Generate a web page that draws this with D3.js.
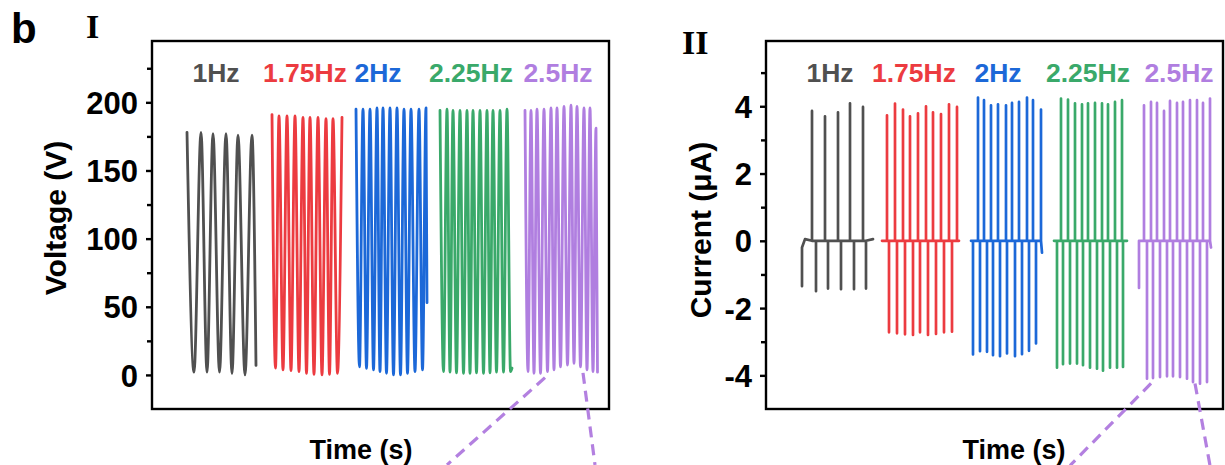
<!DOCTYPE html>
<html>
<head>
<meta charset="utf-8">
<script src="https://cdn.jsdelivr.net/npm/d3@7"></script>
<style>
  body { margin: 0; background: #fff; }
  svg { display: block; font-family: "Liberation Sans", Arial, sans-serif; }
</style>
</head>
<body>
<svg id="chart" width="1225" height="465"></svg>
<script>
// ---- data (time in s, voltage in V, current in uA) ----
const freqLabels = ['1Hz', '1.75Hz', '2Hz', '2.25Hz', '2.5Hz'];
const colors = ['#505050', '#ec3b40', '#1c68d8', '#3aa96a', '#b07ee0'];

// panel I: voltage peaks/valleys [t, V]
const voltage1Hz = [[3.5,178],[4.2,2],[4.9,178],[5.5,2],[6.1,177],[6.75,2],[7.4,177],[8.0,1],[8.6,176],[9.3,0],[10.0,176],[10.4,7]];
const voltage175Hz = [[12.0,191],[12.35,5],[12.7,190],[13.1,3.7],[13.5,190],[13.9,3.2],[14.3,190],[14.7,2.4],[15.1,189],[15.45,1.2],
  [15.8,189],[16.2,0.5],[16.6,189],[17.0,0],[17.4,188],[17.75,0.5],[18.1,188],[18.55,1.2],[19.0,189]];
const voltage2Hz = [[20.4,195],[20.75,6],[21.1,195],[21.45,4.9],[21.8,195],[22.15,3.7],[22.5,196],[22.8,2.4],[23.1,196],[23.45,1.2],
  [23.8,196],[24.15,0],[24.5,196],[24.85,0],[25.2,195],[25.55,1.2],[25.9,195],[26.3,2.4],[26.7,195],[27.05,3.7],[27.4,196],[27.5,53]];
const voltage225Hz = [[28.8,194],[29.15,2.4],[29.5,195],[29.8,2],[30.1,194],[30.45,1.5],[30.8,194],[31.15,1.2],[31.5,194],[31.8,1.2],
  [32.1,194],[32.45,1.5],[32.8,194],[33.15,1.2],[33.5,194],[33.8,1.5],[34.1,194],[34.45,2],[34.8,194],[35.15,2],[35.5,195],[35.85,2.4],[36.0,5]];
const voltage25Hz = [[37.3,194],[37.6,2.4],[37.9,194],[38.2,1.2],[38.5,195],[38.85,1.2],[39.2,195],[39.55,2.4],[39.9,196],[40.2,3.7],
  [40.5,196],[40.85,6],[41.2,197],[41.55,7.3],[41.9,198],[42.2,8.5],[42.5,197],[42.85,6],[43.2,196],[43.5,3.7],[43.8,196],[44.1,2.4],
  [44.4,181],[44.55,2]];

// panel II: current spikes, times and peak values
const curStart = [[[3.6,-1.35],[3.6,-0.2],[3.9,0.05]], [[11.6,0]], [[20.5,0]], [[28.8,0]], [[37.3,-1.4],[37.3,0]]];
const curEnd = [[10.7,0.05],[19.3,0],[[27.6,-0.35]],[36.1,0],[[44.5,-0.2]]];
const upTimes = [
  [4.6,5.9,7.2,8.4,9.7],
  [12.1,12.9,13.7,14.4,15.2,16.0,16.7,17.5,18.3,19.1],
  [21.2,21.8,22.5,23.2,24.0,24.6,25.3,26.1,26.7,27.5],
  [29.5,30.2,30.9,31.6,32.2,32.9,33.6,34.2,34.9,35.6],
  [37.8,38.5,39.1,39.8,40.4,41.1,41.7,42.4,43.1,43.7,44.4]
];
const upValues = [
  [3.86,3.7,3.82,4.09,3.98],
  [3.73,4.08,3.9,3.7,3.79,4.0,3.82,3.77,4.06,3.98],
  [4.26,4.18,4.03,4.06,4.03,4.1,4.13,4.26,4.18,3.9],
  [4.23,4.2,4.09,4.06,4.09,4.1,4.09,4.06,4.13,4.18],
  [4.03,4.13,4.1,3.86,4.16,4.1,4.13,4.18,4.18,4.1,4.23]
];
const downTimes = [
  [5.0,6.2,7.5,8.8,10.0],
  [12.3,13.1,13.9,14.7,15.4,16.2,17.0,17.8,18.6],
  [20.7,21.4,22.1,22.7,23.4,24.1,24.9,25.6,26.3,27.0],
  [29.1,29.7,30.4,31.1,31.7,32.4,33.1,33.7,34.4,35.1,35.7],
  [38.1,38.7,39.4,40.1,40.7,41.4,42.1,42.7,43.4,44.1]
];
const downValues = [
  [-1.5,-1.42,-1.44,-1.44,-1.42],
  [-2.72,-2.75,-2.78,-2.8,-2.72,-2.8,-2.77,-2.72,-2.7],
  [-3.38,-3.28,-3.3,-3.4,-3.43,-3.35,-3.43,-3.37,-3.27,-3.05],
  [-3.77,-3.67,-3.65,-3.65,-3.7,-3.77,-3.8,-3.86,-3.77,-3.77,-3.75],
  [-4.1,-4.08,-4.05,-4.03,-4.03,-4.05,-4.1,-4.2,-4.25,-4.2]
];

const voltTicks = [0, 50, 100, 150, 200];
const voltMinor = [25, 75, 125, 175, 225];
const curTicks = [-4, -2, 0, 2, 4];
const curMinor = [-3, -1, 1, 3, 5];

// zoom call-out guides [from, to] in data units
const voltCallouts = [[[39.3,-2],[29.5,-66]], [[43.1,1.5],[44.3,-66]]];
const curCallouts = [[[38.5,-4.24],[30.4,-6.68]], [[42.9,-4.24],[44.4,-6.68]]];

// ---- drawing ----
const svg = d3.select('#chart');

function buildCurrent(i) {
  const spikes = upTimes[i].map((t, j) => [t, upValues[i][j]])
    .concat(downTimes[i].map((t, j) => [t, downValues[i][j]]))
    .sort((a, b) => a[0] - b[0]);
  let pts = curStart[i].slice();
  spikes.forEach(([t, v]) => { pts.push([t, 0], [t, v], [t, 0]); });
  const end = curEnd[i];
  if (Array.isArray(end[0])) pts = pts.concat(end); else pts.push(end);
  return pts;
}

function drawPanel(opts) {
  const { left, top, width, height } = opts;
  const g = svg.append('g').attr('transform', `translate(${left},${top})`);
  const x = d3.scaleLinear().domain([0, 45.7]).range([0, width]);
  const y = d3.scaleLinear().domain(opts.yDomain).range([height, 0]);

  // traces
  opts.series.forEach((pts, i) => {
    g.append('path')
      .datum(pts)
      .attr('fill', 'none')
      .attr('stroke', colors[i])
      .attr('stroke-width', opts.strokeWidth)
      .attr('stroke-linejoin', 'round')
      .attr('stroke-linecap', 'round')
      .attr('d', d3.line().x(d => x(d[0])).y(d => y(d[1])).curve(opts.curve));
  });

  // frequency labels
  g.selectAll('text.freq')
    .data(freqLabels)
    .join('text')
    .attr('class', 'freq')
    .attr('x', (d, i) => x(opts.labelTimes[i]))
    .attr('y', 41)
    .attr('text-anchor', 'middle')
    .attr('fill', (d, i) => colors[i])
    .style('font-size', '26.5px')
    .style('font-weight', 'bold')
    .text(d => d);

  // frame
  g.append('rect')
    .attr('width', width).attr('height', height)
    .attr('fill', 'none').attr('stroke', '#000').attr('stroke-width', 2.4);

  // y axis
  const yAxis = d3.axisLeft(y).tickValues(opts.ticks).tickSize(6).tickPadding(8).tickFormat(d => String(d));
  const ax = g.append('g').call(yAxis);
  ax.select('.domain').remove();
  ax.selectAll('line').attr('stroke-width', 2.4);
  ax.selectAll('text')
    .style('font-size', '31px').style('font-weight', 'bold')
    .attr('fill', '#000')
    .attr('dy', '0.36em');
  const mAxis = d3.axisLeft(y).tickValues(opts.minor).tickSize(5).tickFormat('');
  const mx = g.append('g').call(mAxis);
  mx.select('.domain').remove();
  mx.selectAll('line').attr('stroke-width', 2.4);

  // axis titles
  g.append('text')
    .attr('transform', `translate(${opts.yTitleX},${opts.yTitleY}) rotate(-90)`)
    .attr('text-anchor', 'middle')
    .style('font-size', '30px').style('font-weight', 'bold')
    .text(opts.yTitle);
  g.append('text')
    .attr('x', opts.xTitleX).attr('y', height + 50)
    .attr('text-anchor', 'middle')
    .style('font-size', '27px').style('font-weight', 'bold')
    .text('Time (s)');

  // call-out dashed guides
  opts.callouts.forEach(([a, b]) => {
    g.append('line')
      .attr('x1', x(a[0])).attr('y1', y(a[1]))
      .attr('x2', x(b[0])).attr('y2', y(b[1]))
      .attr('stroke', '#b380e0').attr('stroke-width', 3.2)
      .attr('stroke-dasharray', '11,7');
  });
  return g;
}

drawPanel({
  left: 152, top: 41, width: 457, height: 368,
  yDomain: [-25, 245],
  series: [voltage1Hz, voltage175Hz, voltage2Hz, voltage225Hz, voltage25Hz],
  curve: d3.curveMonotoneX, strokeWidth: 2.8,
  labelTimes: [6.4, 15.3, 22.6, 31.9, 40.6],
  ticks: voltTicks, minor: voltMinor,
  yTitle: 'Voltage (V)', yTitleX: -86, yTitleY: 177,
  xTitleX: 209,
  callouts: voltCallouts
});

drawPanel({
  left: 766, top: 41, width: 457, height: 368,
  yDomain: [-5, 5.94],
  series: [0, 1, 2, 3, 4].map(buildCurrent),
  curve: d3.curveLinear, strokeWidth: 2.7,
  labelTimes: [6.4, 14.8, 23.2, 32.2, 41.3],
  ticks: curTicks, minor: curMinor,
  yTitle: 'Current (\u03bcA)', yTitleX: -55, yTitleY: 189,
  xTitleX: 248,
  callouts: curCallouts
});

// panel tags
svg.append('text').attr('x', 11).attr('y', 43)
  .style('font-size', '42px').style('font-weight', 'bold').text('b');
svg.append('text').attr('x', 86).attr('y', 38)
  .style('font-family', '"Liberation Serif", "Times New Roman", serif')
  .style('font-size', '34px').style('font-weight', 'bold').text('I');
svg.append('text').attr('x', 682).attr('y', 54)
  .style('font-family', '"Liberation Serif", "Times New Roman", serif')
  .style('font-size', '34px').style('font-weight', 'bold').text('II');
</script>
</body>
</html>
